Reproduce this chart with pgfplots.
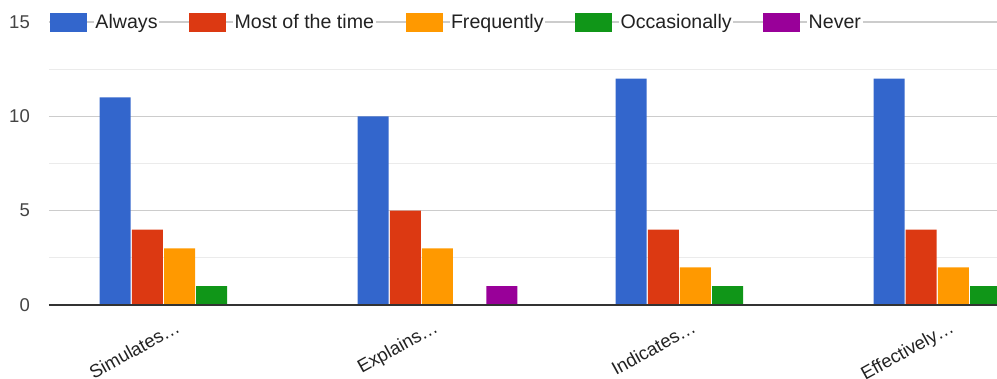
\documentclass[border=0pt]{standalone}
\usepackage{pgfplots}
\pgfplotsset{compat=1.18}
\usepackage{fontspec}
\setmainfont{Liberation Sans}
\definecolor{cA}{HTML}{3366CC}
\definecolor{cB}{HTML}{DC3912}
\definecolor{cC}{HTML}{FF9900}
\definecolor{cD}{HTML}{109618}
\definecolor{cE}{HTML}{990099}
\definecolor{gmaj}{HTML}{CCCCCC}
\definecolor{gmin}{HTML}{EBEBEB}
\definecolor{tick}{HTML}{444444}
\definecolor{txt}{HTML}{222222}
\begin{document}
\begin{tikzpicture}
\begin{axis}[
  scale only axis,
  width=948pt, height=283pt,
  xmin=-0.506, xmax=3.169,
  ymin=0, ymax=15,
  axis line style={draw=none},
  ytick={0,5,10,15},
  minor ytick={2.5,7.5,12.5},
  ymajorgrids, yminorgrids,
  major grid style={gmaj, line width=1.3pt},
  minor grid style={gmin, line width=1.3pt},
  major tick length=0pt, minor tick length=0pt,
  xtick={0,1,2,3},
  xticklabels={Simulates…, Explains…, Indicates…, Effectively…},
  xticklabel style={rotate=29, anchor=north east, inner sep=0pt, font=\fontsize{18.5}{20}\selectfont, text=txt, yshift=-10pt, xshift=-11pt},
  yticklabel style={font=\fontsize{18.5}{20}\selectfont, text=tick, inner sep=0pt, xshift=-19pt},
  /pgf/number format/assume math mode=true,
  ybar, bar width=0.1202,
  clip=true,
  legend columns=5,
  legend cell align=left,
  legend style={draw=none, fill=none, inner sep=0pt, outer sep=0pt,
    at={(rel axis cs:0,1)}, anchor=west, xshift=-29pt, yshift=-0.5pt,
    font=\fontsize{19.6}{21}\selectfont, text=txt,
    nodes={fill=white, inner xsep=1.5pt, inner ysep=2pt},
    column sep=0pt},
  legend image code/.code={%
    \path (-30pt,0) (44pt,0);
    \path[#1,draw=none] (0pt,-9.5pt) rectangle (37pt,9.5pt);},
]
\coordinate (ll) at (rel axis cs:0,0);
\coordinate (ur) at (rel axis cs:1,1);
\addplot[fill=cA, draw=none, bar shift=-0.2496] coordinates {(0,11) (1,10) (2,12) (3,12)};
\addplot[fill=cB, draw=none, bar shift=-0.1248] coordinates {(0,4) (1,5) (2,4) (3,4)};
\addplot[fill=cC, draw=none, bar shift=0] coordinates {(0,3) (1,3) (2,2) (3,2)};
\addplot[fill=cD, draw=none, bar shift=0.1248] coordinates {(0,1) (1,0) (2,1) (3,1)};
\addplot[fill=cE, draw=none, bar shift=0.2496] coordinates {(0,0) (1,1) (2,0) (3,0)};
\legend{Always, Most of the time, Frequently, Occasionally, Never}
\draw[color=black!80, line width=2.2pt] (rel axis cs:0,0) -- (rel axis cs:1,0);
\end{axis}
\pgfresetboundingbox
\useasboundingbox ([xshift=-49pt,yshift=-73pt]ll) rectangle ([yshift=22pt]ur);
\end{tikzpicture}
\end{document}
